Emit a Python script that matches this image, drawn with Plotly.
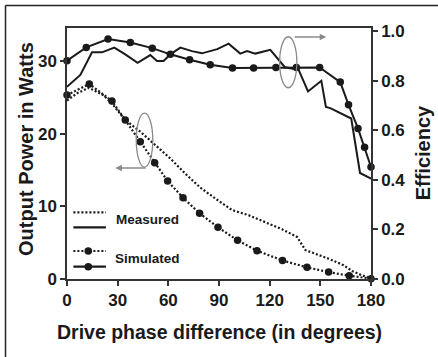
import plotly.graph_objects as go

# Output power (W) vs drive phase difference (deg)
phase_pow_meas = [0, 6, 13, 21.7, 27.6, 34.5, 43.4, 51.9, 61.2, 71, 78.9, 87.8, 97.7,
                  107.5, 117.4, 127.3, 136.2, 141.1, 145, 154.9, 163.8, 168.8, 174.7, 180]
power_meas = [24.6, 25.6, 26.35, 25.3, 23.9, 21.9, 20.3, 18.5, 16.6, 14.3, 12.6, 11.1, 9.5,
              8.8, 7.85, 6.85, 5.8, 4.0, 3.65, 2.8, 1.9, 1.1, 0.5, 0.1]

phase_pow_sim = [0, 13.2, 26.6, 34.5, 43.4, 51.9, 59.6, 68.7, 78.5, 89.4, 101, 112.5,
                 127.6, 142.1, 154.9, 167.1, 180]
power_sim = [25.35, 26.87, 24.53, 21.91, 18.92, 16.03, 13.5, 11.2, 9.05, 7.12, 5.33, 3.9,
             2.55, 1.61, 0.95, 0.45, 0.05]

# Efficiency vs drive phase difference
phase_eff_meas = [0, 7.9, 14.8, 20.7, 28, 34.5, 41.8, 49.3, 53.3, 57.2, 61.2, 67.1, 74, 79.9,
                  89, 95.7, 102.6, 106.6, 111.5, 120.4, 129, 137.1, 142.7, 150.6, 153.3,
                  155.9, 168.3, 173.5, 180]
eff_meas = [0.776, 0.824, 0.915, 0.915, 0.934, 0.907, 0.873, 0.904, 0.88, 0.88, 0.907, 0.934,
            0.92, 0.911, 0.928, 0.95, 0.91, 0.92, 0.91, 0.925, 0.855, 0.845, 0.757, 0.8,
            0.695, 0.69, 0.648, 0.428, 0.405]

phase_eff_sim = [0, 11.4, 24.3, 37.5, 50.5, 61.2, 72.6, 84.8, 98, 110.5, 123.7, 135.8, 149.6,
                 161.8, 166.7, 172.3, 176.2, 180]
eff_sim = [0.881, 0.935, 0.969, 0.955, 0.932, 0.907, 0.885, 0.865, 0.852, 0.852, 0.854, 0.854,
           0.854, 0.795, 0.703, 0.608, 0.532, 0.452]

x_ticks = [0, 30, 60, 90, 120, 150, 180]
power_ticks = [0, 10, 20, 30]
eff_ticks = [0.0, 0.2, 0.4, 0.6, 0.8, 1.0]

INK = "#1a1a1a"
FONT = "Liberation Sans, Arial, sans-serif"
DOTS = "2px,2px"

fig = go.Figure()

fig.add_trace(go.Scatter(x=phase_pow_meas, y=power_meas, mode="lines",
                         line=dict(color=INK, width=2.2, dash=DOTS),
                         cliponaxis=False, showlegend=False))
fig.add_trace(go.Scatter(x=phase_pow_sim, y=power_sim, mode="lines+markers",
                         line=dict(color=INK, width=2.2, dash=DOTS),
                         marker=dict(color=INK, size=7.5), cliponaxis=False, showlegend=False))
fig.add_trace(go.Scatter(x=phase_eff_meas, y=eff_meas, mode="lines", yaxis="y2",
                         line=dict(color=INK, width=2),
                         cliponaxis=False, showlegend=False))
fig.add_trace(go.Scatter(x=phase_eff_sim, y=eff_sim, mode="lines+markers", yaxis="y2",
                         line=dict(color=INK, width=2),
                         marker=dict(color=INK, size=7.5), cliponaxis=False, showlegend=False))

tick_font = dict(family=FONT, size=17, color=INK, weight="bold")
title_font = dict(family=FONT, size=20, color=INK, weight="bold")
axis_common = dict(showgrid=False, zeroline=False, showline=True, linecolor="#333",
                   linewidth=1.5, ticks="outside", ticklen=5, tickwidth=1.5,
                   tickcolor="#333", tickfont=tick_font)

fig.update_layout(
    width=438, height=357,
    margin=dict(l=67, r=67, t=28, b=78),
    paper_bgcolor="white", plot_bgcolor="white",
    xaxis=dict(range=[0, 180], tickvals=x_ticks, mirror=True, **axis_common),
    yaxis=dict(range=[0, 34.59], tickvals=power_ticks, **axis_common),
    yaxis2=dict(range=[0, 1.0133], tickvals=eff_ticks, tickformat=".1f",
                overlaying="y", side="right", **axis_common),
)

# Axis titles
fig.add_annotation(text="Drive phase difference (in degrees)", xref="paper", yref="paper",
                   x=0.5, y=-0.21, showarrow=False, font=dict(family=FONT, size=19.5,
                   color=INK, weight="bold"), xanchor="center", yanchor="middle")
fig.add_annotation(text="Output Power in Watts", xref="paper", yref="paper",
                   x=-0.135, y=0.518, textangle=-90, showarrow=False, font=title_font,
                   xanchor="center", yanchor="middle")
fig.add_annotation(text="Efficiency", xref="paper", yref="paper",
                   x=1.172, y=0.502, textangle=-90, showarrow=False, font=title_font,
                   xanchor="center", yanchor="middle")

# Curve-group markers: ellipse + arrow pointing to the relevant axis
GREY = "#8a8a8a"
fig.add_shape(type="circle", xref="x", yref="y", x0=41.0, x1=50.8, y0=15.43, y1=22.87,
              line=dict(color=GREY, width=1.3))
fig.add_annotation(xref="x", yref="y", axref="x", ayref="y", x=28.6, y=15.3, ax=47.5, ay=15.3,
                   text="", showarrow=True, arrowhead=2, arrowsize=1, arrowwidth=1.3,
                   arrowcolor=GREY)
fig.add_shape(type="circle", xref="x", yref="y2", x0=125.9, x1=136.1, y0=0.772, y1=0.978,
              line=dict(color=GREY, width=1.3))
fig.add_annotation(xref="x", yref="y2", axref="x", ayref="y2", x=153.5, y=0.977, ax=133.9,
                   ay=0.977, text="", showarrow=True, arrowhead=2, arrowsize=1,
                   arrowwidth=1.3, arrowcolor=GREY)

# Legend block
leg_x0, leg_x1 = 0.021, 0.128
leg_rows = [(0.2657, DOTS, False), (0.206, "solid", False),
            (0.1116, DOTS, True), (0.049, "solid", True)]
for yy, dash, with_marker in leg_rows:
    fig.add_shape(type="line", xref="paper", yref="paper", x0=leg_x0, x1=leg_x1, y0=yy, y1=yy,
                  line=dict(color=INK, width=2.2, dash=dash))
    if with_marker:
        fig.add_shape(type="circle", xref="paper", yref="paper",
                      x0=0.070 - 0.0125, x1=0.070 + 0.0125, y0=yy - 0.015, y1=yy + 0.015,
                      fillcolor=INK, line=dict(color=INK, width=0))
legend_font = dict(family=FONT, size=13.5, color=INK, weight="bold")
fig.add_annotation(text="Measured", xref="paper", yref="paper", x=0.154, y=0.2378,
                   showarrow=False, xanchor="left", yanchor="middle", font=legend_font)
fig.add_annotation(text="Simulated", xref="paper", yref="paper", x=0.152, y=0.0825,
                   showarrow=False, xanchor="left", yanchor="middle", font=legend_font)

# Outer frame (top and left edges)
fx, fy = -0.2023, 1.0896
fig.add_shape(type="line", xref="paper", yref="paper", x0=fx, x1=1.23, y0=fy, y1=fy,
              line=dict(color="#222", width=1.5))
fig.add_shape(type="line", xref="paper", yref="paper", x0=fx, x1=fx, y0=fy, y1=-0.32,
              line=dict(color="#222", width=1.5))

fig.write_html("out.html")
